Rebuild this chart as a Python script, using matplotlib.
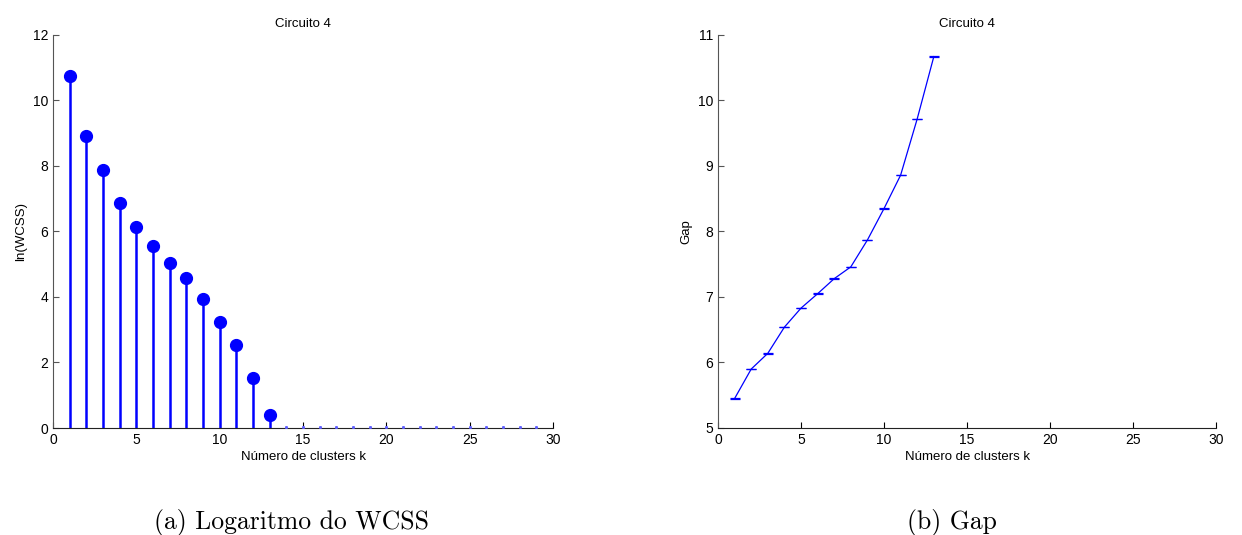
import matplotlib
matplotlib.use("Agg")
import matplotlib.pyplot as plt
import numpy as np

# Log of within-cluster sum of squares for k = 1..29 (zero beyond k = 13)
k_wcss = list(range(1, 30))
ln_wcss = [10.75, 8.92, 7.88, 6.88, 6.15, 5.57, 5.03, 4.57, 3.94, 3.24, 2.54, 1.52, 0.40] + [0.0] * 16

# Gap statistic for k = 1..13
k_gap = list(range(1, 14))
gap = [5.45, 5.90, 6.14, 6.54, 6.83, 7.05, 7.28, 7.46, 7.87, 8.35, 8.86, 9.72, 10.67]
gap_err = [0.005] * 13

title = "Circuito 4"
xlabel = "Número de clusters k"
captions = ["(a) Logaritmo do WCSS", "(b) Gap"]
caption_x = [292 / 1242, 952 / 1242]

plt.rcParams['font.family'] = ['Liberation Sans', 'DejaVu Sans']
fig = plt.figure(figsize=(12.42, 5.35), dpi=100)

ax1 = fig.add_axes([0.0427, 0.2, 0.4026, 0.7346])
ax2 = fig.add_axes([0.5781, 0.2, 0.401, 0.7346])

blue = '#0000ff'
k_arr = np.array(k_wcss)
w_arr = np.array(ln_wcss)
nz = w_arr > 0
ax1.vlines(k_arr[nz], 0, w_arr[nz], color=blue, lw=1.8, zorder=2)
ax1.plot(k_arr[nz], w_arr[nz], 'o', color=blue, ms=8.5, zorder=3)
ax1.plot(k_arr[~nz], w_arr[~nz] + 0.03, 's', color='#6060ff', ms=1.1, zorder=3, clip_on=False)
ax1.set_xlim(0, 30)
ax1.set_ylim(0, 12)
ax1.set_xticks(range(0, 31, 5))
ax1.set_yticks(range(0, 13, 2))
ax1.set_ylabel("ln(WCSS)", fontsize=9.5)

ax2.errorbar(k_gap, gap, yerr=gap_err, color=blue, lw=0.9, capsize=3.7,
             capthick=0.9, elinewidth=0.9)
ax2.set_xlim(0, 30)
ax2.set_ylim(5, 11)
ax2.set_xticks(range(0, 31, 5))
ax2.set_yticks(range(5, 12))
ax2.set_ylabel("Gap", fontsize=9.5)

for ax, cap, cx in zip((ax1, ax2), captions, caption_x):
    ax.set_title(title, fontsize=9.5, pad=6)
    ax.set_xlabel(xlabel, fontsize=9.5, labelpad=3)
    for s in ('top', 'right'):
        ax.spines[s].set_visible(False)
    ax.spines['left'].set_color('#555555')
    ax.spines['bottom'].set_color('#222222')
    ax.tick_params(direction='in', labelsize=10, length=4, width=0.8)
    ax.tick_params(axis='y', colors='#555555', labelcolor='black')
    fig.text(cx, 1 - 522 / 535, cap, ha='center', va='center',
             fontsize=18.5, family=['cmr10', 'DejaVu Serif'])

fig.savefig("out.png", dpi=100)
